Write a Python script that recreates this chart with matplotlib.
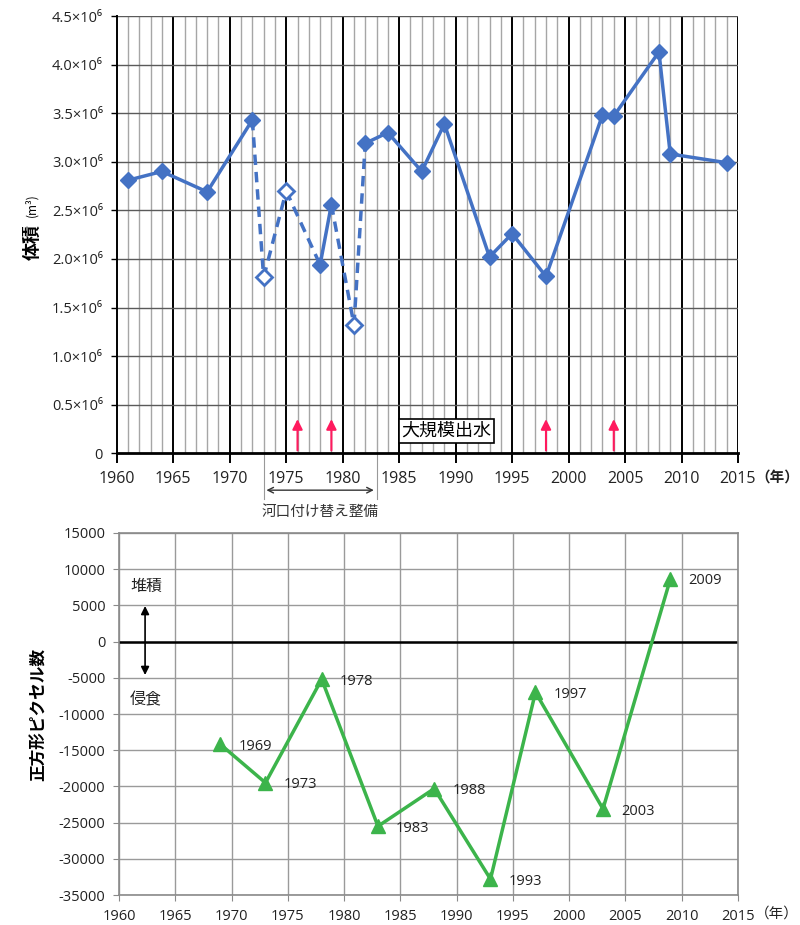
import numpy as np
import matplotlib
matplotlib.use("Agg")
from matplotlib import pyplot as plt
from matplotlib.patches import FancyArrowPatch

# 数字は Open Sans、日本語は Noto Sans CJK JP で描く
plt.rcParams['font.family'] = ['Open Sans', 'Noto Sans CJK JP', 'DejaVu Sans']
jp = ['Noto Sans CJK JP', 'DejaVu Sans']

# ---- 体積の推移 (upper panel) ----
years = [1961, 1964, 1968, 1972, 1973, 1975, 1978, 1979, 1981, 1982, 1984,
         1987, 1989, 1993, 1995, 1998, 2003, 2004, 2008, 2009, 2014]
volume = [2.81, 2.90, 2.69, 3.43, 1.81, 2.70, 1.94, 2.56, 1.32, 3.19, 3.30,
          2.90, 3.39, 2.02, 2.26, 1.82, 3.48, 3.47, 4.13, 3.08, 2.99]
volume = [v * 1e6 for v in volume]
open_years = [1973, 1975, 1981]            # 白抜きマーカー
dashed_pairs = [(1972, 1973), (1973, 1975), (1975, 1978),
                (1979, 1981), (1981, 1982)]
flood_years = [1976, 1979, 1998, 2004]     # 大規模出水
works_span = (1973, 1983)                  # 河口付け替え整備

# ---- 正方形ピクセル数 (lower panel) ----
px_years = [1969, 1973, 1978, 1983, 1988, 1993, 1997, 2003, 2009]
px_count = [-14200, -19500, -5200, -25500, -20300, -32800, -7000, -23100, 8700]

blue = '#4472C4'
green = '#3CB44B'
red = '#FF1A5E'
txt = '#222222'

fig = plt.figure(figsize=(8, 9.25), dpi=100)

# ================= upper =================
ax1 = fig.add_axes([0.146, 0.510, 0.7765, 0.4727])
ax1.set_xlim(1960, 2015)
ax1.set_ylim(0, 4.5e6)

for yr in range(1961, 2015):
    if yr % 5:
        ax1.axvline(yr, color='#a6a6a6', lw=1.0, zorder=1)
for yr in range(1965, 2016, 5):
    ax1.axvline(yr, color='black', lw=1.4, zorder=1)
for v in np.arange(0.5e6, 4.51e6, 0.5e6):
    ax1.axhline(v, color='#5a5a5a', lw=1.0, zorder=1)

idx = {y: i for i, y in enumerate(years)}
for a, b in zip(years[:-1], years[1:]):
    ls = (0, (3, 2)) if (a, b) in dashed_pairs else '-'
    ax1.plot([a, b], [volume[idx[a]], volume[idx[b]]], color=blue, lw=2.5,
             ls=ls, zorder=3)

for y, v in zip(years, volume):
    if y in open_years:
        ax1.plot(y, v, marker='D', ms=8, mfc='white', mec=blue, mew=2, zorder=4)
    else:
        ax1.plot(y, v, marker='D', ms=8.5, color=blue, zorder=4)

for fy in flood_years:
    ax1.annotate('', xy=(fy, 0.38e6), xytext=(fy, 0),
                 arrowprops=dict(arrowstyle='-|>', color=red, lw=1.5,
                                 mutation_scale=15), zorder=5)
ax1.text(1989.2, 0.23e6, '大規模出水', fontsize=13, ha='center', va='center',
         family=jp,
         bbox=dict(boxstyle='square,pad=0.15', fc='white', ec='black', lw=1.2),
         zorder=6)

# 河口付け替え整備の期間
for x in works_span:
    ax1.plot([x, x], [0, -0.47e6], color='#999999', lw=0.8, clip_on=False)
arr = FancyArrowPatch((works_span[0], -0.38e6), (works_span[1], -0.38e6),
                      arrowstyle='<->', mutation_scale=10, color='#333333',
                      lw=1.0, clip_on=False)
ax1.add_patch(arr)
ax1.text(np.mean(works_span), -0.6e6, '河口付け替え整備', fontsize=10.5,
         ha='center', va='center', color='#333333', clip_on=False, family=jp)

ax1.set_xticks(range(1960, 2016, 5))
ax1.set_xticklabels([str(t) for t in range(1960, 2016, 5)], fontsize=11.5,
                    color=txt)
yt = np.arange(0, 4.51e6, 0.5e6)
ax1.set_yticks(yt)
ax1.set_yticklabels(['0'] + ['%.1f×10⁶' % (t / 1e6) for t in yt[1:]],
                    fontsize=10.5, color=txt)
ax1.tick_params(axis='x', direction='out', length=7, width=1.4, pad=6)
ax1.tick_params(axis='y', direction='out', length=4, width=1.0, pad=6)
ax1.spines['top'].set_visible(False)
ax1.spines['right'].set_visible(False)
ax1.spines['left'].set_linewidth(1.4)
ax1.spines['bottom'].set_linewidth(2.0)
fig.text(0.999, 1 - 477 / 925, '（年）', fontsize=10.5, ha='right',
         va='center', fontweight='bold', color=txt, family=jp)

# 縦軸ラベル: 体積 + 小さい単位
fig.text(32 / 800, 1 - 242 / 925, '体積', rotation=90, fontsize=13,
         fontweight='bold', ha='center', va='center', family=jp)
fig.text(32 / 800, 1 - 205 / 925, '(m³)', rotation=90, fontsize=8.5,
         ha='center', va='center', family=jp)

# ================= lower =================
ax2 = fig.add_axes([0.149, 0.0324, 0.7735, 0.3914])
ax2.set_xlim(1960, 2015)
ax2.set_ylim(-35000, 15000)
ax2.set_xticks(range(1960, 2016, 5))
ax2.set_yticks(range(-35000, 15001, 5000))
ax2.set_xticklabels([str(t) for t in range(1960, 2016, 5)], fontsize=10.5,
                    color=txt)
ax2.set_yticklabels([str(t) for t in range(-35000, 15001, 5000)],
                    fontsize=10.5, color=txt)
ax2.grid(True, color='#9a9a9a', lw=1.0, zorder=1)
ax2.axhline(0, color='black', lw=1.8, zorder=2)
for s in ax2.spines.values():
    s.set_color('#8a8a8a')
    s.set_linewidth(1.2)
ax2.tick_params(axis='both', direction='out', length=4, color='#8a8a8a',
                pad=6)

ax2.plot(px_years, px_count, color=green, lw=2.5, marker='^', ms=10,
         zorder=3)
for y, c in zip(px_years, px_count):
    ax2.text(y + 1.6, c - 300, str(y), fontsize=10.5, ha='left',
             va='center', color=txt)

ax2.annotate('', xy=(1962.3, 5300), xytext=(1962.3, -5000),
             arrowprops=dict(arrowstyle='<|-|>', color='black', lw=1.2,
                             mutation_scale=12))
ax2.text(1962.4, 6400, '堆積', fontsize=11.5, ha='center', va='bottom',
         color=txt, family=jp)
ax2.text(1962.4, -8100, '侵食', fontsize=11.5, ha='center', va='center',
         color=txt, family=jp)
fig.text(0.999, 1 - 914 / 925, '（年）', fontsize=10.5, ha='right',
         va='center', color=txt, family=jp)
ax2.set_ylabel('正方形ピクセル数', fontsize=12, fontweight='bold', labelpad=8,
               family=jp)

fig.savefig('out.png', dpi=100)
